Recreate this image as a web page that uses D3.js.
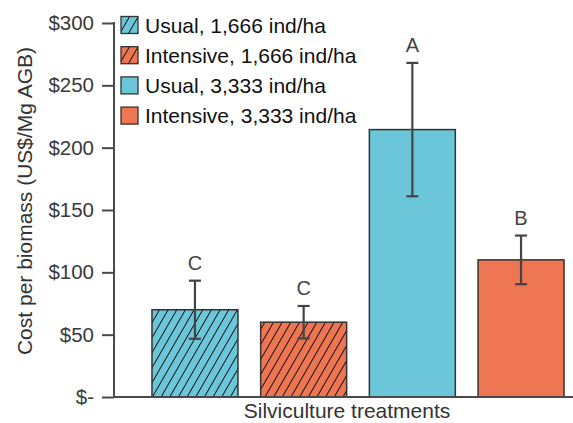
<!DOCTYPE html>
<html>
<head>
<meta charset="utf-8">
<script src="https://cdn.jsdelivr.net/npm/d3@7"></script>
<style>
  html, body { margin: 0; padding: 0; background: #fff; }
  svg { display: block; font-family: "Liberation Sans", Arial, Helvetica, sans-serif; }
</style>
</head>
<body>
<svg id="chart" width="573" height="423"></svg>
<script>
const categories = ["Usual, 1,666 ind/ha", "Intensive, 1,666 ind/ha", "Usual, 3,333 ind/ha", "Intensive, 3,333 ind/ha"];
const means = [70, 60, 214.5, 110];
const errors = [23.3, 13, 53.5, 19.5];
const letters = ["C", "C", "A", "B"];
const hatched = [true, true, false, false];
const colors = ["#6cc6d9", "#ee7652", "#6cc6d9", "#ee7652"];
const yTicks = [0, 50, 100, 150, 200, 250, 300];
const yTickLabels = ["$-", "$50", "$100", "$150", "$200", "$250", "$300"];
const xTitle = "Silviculture treatments";
const yTitle = "Cost per biomass (US$/Mg AGB)";

const svg = d3.select("#chart");
const axisColor = "#4a4a4a";
const x0 = 114, yBase = 397, yTop = 23;

const y = d3.scaleLinear().domain([0, 300]).range([yBase, yTop]);
const x = d3.scaleBand().domain(categories).range([141.1, 574.9]).paddingInner(0.209).paddingOuter(0.1);

// hatch patterns
const defs = svg.append("defs");
colors.forEach((c, i) => {
  if (!hatched[i]) return;
  const p = defs.append("pattern")
    .attr("id", "hatch" + i)
    .attr("patternUnits", "userSpaceOnUse")
    .attr("width", 7.5).attr("height", 10)
    .attr("patternTransform", "rotate(30)");
  p.append("rect").attr("width", 7.5).attr("height", 10).attr("fill", c);
  p.append("line").attr("x1", 0).attr("y1", 0).attr("x2", 0).attr("y2", 10)
    .attr("stroke", "#111").attr("stroke-width", 1.9);
});
const fillOf = i => hatched[i] ? `url(#hatch${i})` : colors[i];

// bars
svg.append("g").selectAll("rect").data(categories).join("rect")
  .attr("x", d => x(d))
  .attr("y", (d, i) => y(means[i]))
  .attr("width", x.bandwidth())
  .attr("height", (d, i) => y(0) - y(means[i]))
  .attr("fill", (d, i) => fillOf(i))
  .attr("stroke", "#333").attr("stroke-width", 1.5);

// error bars
const eb = svg.append("g").attr("stroke", "#444").attr("stroke-width", 2.2).attr("fill", "none");
categories.forEach((d, i) => {
  const cx = x(d) + x.bandwidth() / 2;
  const hi = y(means[i] + errors[i]), lo = y(means[i] - errors[i]);
  eb.append("line").attr("x1", cx).attr("x2", cx).attr("y1", hi).attr("y2", lo);
  eb.append("line").attr("x1", cx - 6).attr("x2", cx + 6).attr("y1", hi).attr("y2", hi);
  eb.append("line").attr("x1", cx - 6).attr("x2", cx + 6).attr("y1", lo).attr("y2", lo);
  svg.append("text").attr("x", cx).attr("y", hi - 10.5)
    .attr("text-anchor", "middle").attr("font-size", 20).attr("fill", "#444")
    .text(letters[i]);
});

// y axis
const yAxis = d3.axisLeft(y).tickValues(yTicks).tickSize(12).tickPadding(8)
  .tickFormat((d, i) => yTickLabels[i]);
const gy = svg.append("g").attr("transform", `translate(${x0},0)`).call(yAxis);
gy.select(".domain").remove();
gy.selectAll(".tick line").attr("stroke", axisColor).attr("stroke-width", 2);
gy.selectAll(".tick text").attr("font-size", 20.5).attr("fill", "#3a3a3a")
  .attr("font-family", "Liberation Sans, Arial, sans-serif");
svg.append("line").attr("x1", x0).attr("x2", x0).attr("y1", y(300) - 1).attr("y2", yBase)
  .attr("stroke", axisColor).attr("stroke-width", 2);
// x axis line
svg.append("line").attr("x1", x0 - 1).attr("x2", 573).attr("y1", yBase).attr("y2", yBase)
  .attr("stroke", axisColor).attr("stroke-width", 2);

// axis titles
svg.append("text").attr("x", 347).attr("y", 418).attr("text-anchor", "middle")
  .attr("font-size", 21).attr("fill", "#333").text(xTitle);
svg.append("text").attr("transform", "translate(32,201) rotate(-90)")
  .attr("text-anchor", "middle").attr("font-size", 21).attr("fill", "#333").text(yTitle);

// legend
const lg = svg.append("g");
categories.forEach((d, i) => {
  const top = 16.5 + i * 30.2;
  lg.append("rect").attr("x", 121).attr("y", top).attr("width", 17).attr("height", 17)
    .attr("fill", fillOf(i)).attr("stroke", "#333").attr("stroke-width", 1.3);
  lg.append("text").attr("x", 145).attr("y", top + 16).attr("font-size", 21)
    .attr("fill", "#111").text(d);
});
</script>
</body>
</html>
